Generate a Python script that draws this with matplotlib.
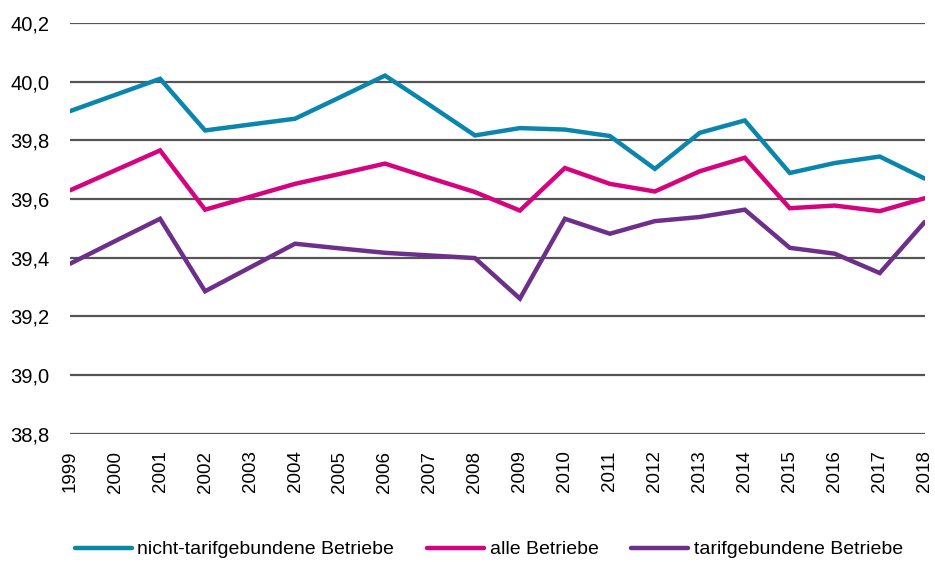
import matplotlib
matplotlib.use('Agg')
import matplotlib.pyplot as plt
from matplotlib.ticker import FuncFormatter

# =============================================================================
# DATEN
# =============================================================================

YEARS = list(range(1999, 2019))

NICHT_TARIF = [39.90, 39.955, 40.01, 39.834, 39.854, 39.874, 39.947, 40.021,
               39.92, 39.817, 39.842, 39.837, 39.815, 39.703, 39.826, 39.868,
               39.689, 39.723, 39.745, 39.670]
ALLE = [39.630, 39.698, 39.766, 39.564, 39.608, 39.652, 39.686, 39.721,
        39.672, 39.624, 39.561, 39.706, 39.652, 39.626, 39.695, 39.741,
        39.569, 39.578, 39.559, 39.603]
TARIF = [39.380, 39.457, 39.533, 39.286, 39.367, 39.448, 39.432, 39.417,
         39.408, 39.399, 39.261, 39.533, 39.482, 39.525, 39.539, 39.564,
         39.434, 39.414, 39.348, 39.522]

SERIES = [
    ('nicht-tarifgebundene Betriebe', NICHT_TARIF, '#0a86ad'),
    ('alle Betriebe', ALLE, '#d6037f'),
    ('tarifgebundene Betriebe', TARIF, '#6c2f8a'),
]

Y_TICKS = [38.8, 39.0, 39.2, 39.4, 39.6, 39.8, 40.0, 40.2]

# =============================================================================
# FIGUR
# =============================================================================

plt.rcParams['font.family'] = ['Liberation Sans', 'DejaVu Sans']

fig = plt.figure(figsize=(9.35, 5.62), dpi=100)
ax = fig.add_axes([0.075, 0.228, 0.914, 0.731])

for y in Y_TICKS:
    ax.axhline(y, color='#555555', linewidth=1.6, zorder=1)

for label, vals, color in SERIES:
    ax.plot(YEARS, vals, color=color, linewidth=3.2, label=label,
            solid_capstyle='round', solid_joinstyle='miter', zorder=3)

ax.set_xlim(YEARS[0], YEARS[-1])
ax.set_ylim(Y_TICKS[0], Y_TICKS[-1])
ax.set_yticks(Y_TICKS)
ax.yaxis.set_major_formatter(FuncFormatter(lambda v, p: f'{v:.1f}'.replace('.', ',')))
ax.set_xticks(YEARS)
ax.set_xticklabels([str(y) for y in YEARS], rotation=90)
ax.tick_params(axis='both', length=0, labelsize=13.5, colors='black')
ax.tick_params(axis='y', pad=15, labelsize=14.5)
ax.tick_params(axis='x', pad=12)
for s in ax.spines.values():
    s.set_visible(False)

fig.legend(loc='center', bbox_to_anchor=(0.523, 0.022), ncol=3, frameon=False,
           fontsize=14, handlelength=2.9, handletextpad=0.3, columnspacing=1.7,
           borderpad=0)

plt.savefig('out.png', dpi=100)
plt.close()
